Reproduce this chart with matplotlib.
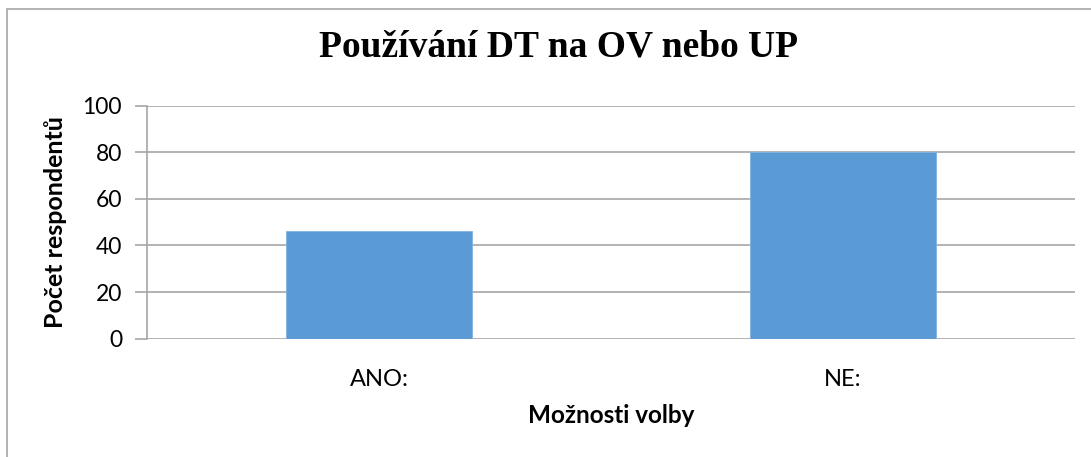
import matplotlib.pyplot as plt
from matplotlib.patches import Rectangle

categories = ["ANO:", "NE:"]
counts = [46, 80]
y_ticks = [0, 20, 40, 60, 80, 100]

W, H = 1091, 457
fig = plt.figure(figsize=(W / 100, H / 100), dpi=100)
ax = fig.add_axes([147 / W, 1 - 338.7 / H, (1075 - 147) / W, (338.7 - 105.5) / H])

# outer chart border (cut off at right/bottom like the original)
fig.patches.append(Rectangle((7 / W, -0.1), 1.2, 1 - 9 / H + 0.1, transform=fig.transFigure,
                             fill=False, edgecolor="#A6A6A6", linewidth=1.2))

x = range(len(categories))
ax.bar(x, counts, width=0.4, color="#5B9BD5", edgecolor="#7FB2E0", linewidth=0.6, zorder=3)

ax.set_xlim(-0.5, 1.5)
ax.set_ylim(0, 100)
ax.set_yticks(y_ticks)
ax.set_xticks(list(x))
ax.set_xticklabels(categories)
ax.yaxis.grid(True, color="#A6A6A6", linewidth=1.2, zorder=0)

for s in ["top", "right", "bottom"]:
    ax.spines[s].set_visible(False)
ax.spines["left"].set_color("#A6A6A6")
ax.spines["left"].set_linewidth(1.2)

ax.tick_params(axis="y", length=9, color="#A6A6A6", width=1.2, pad=9,
               labelsize=16.5, labelcolor="black")
ax.tick_params(axis="x", length=0, pad=22, labelsize=17)
for lbl in ax.get_xticklabels() + ax.get_yticklabels():
    lbl.set_family("Lato")

ax.set_xlabel("Možnosti volby", family="Lato", fontsize=17.5, fontweight="bold", labelpad=10)
ax.set_ylabel("Počet respondentů", family="Lato", fontsize=18, fontweight="bold", labelpad=11)

fig.text(559 / W, 1 - 47 / H, "Používání DT na OV nebo UP", family="Liberation Serif",
         fontsize=27, fontweight="bold", ha="center", va="center")

fig.savefig("out.png", dpi=100)
